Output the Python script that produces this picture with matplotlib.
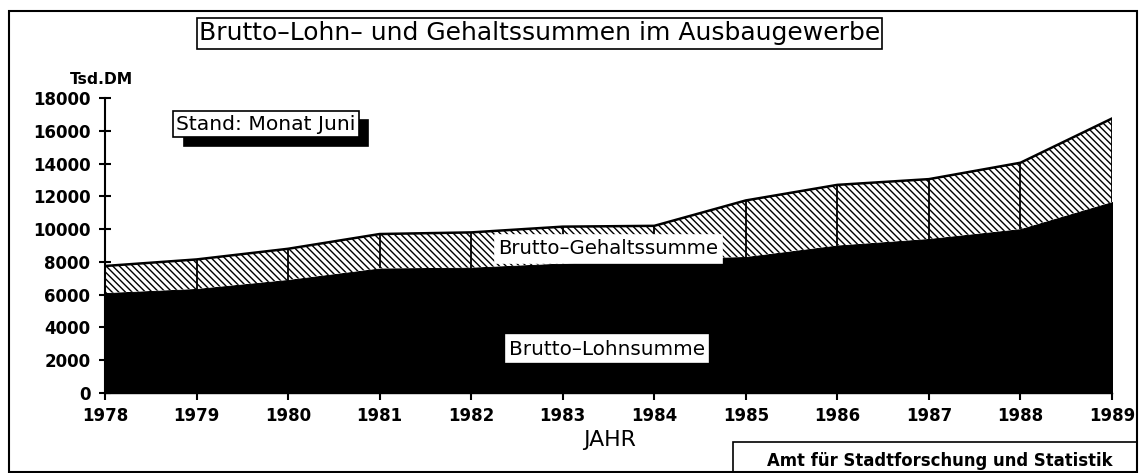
import numpy as np
import matplotlib.pyplot as plt
from matplotlib.patches import Rectangle

# ==============================================================================
# Data (Tsd. DM, Stand: Monat Juni)
# ==============================================================================
years = [1978, 1979, 1980, 1981, 1982, 1983, 1984, 1985, 1986, 1987, 1988, 1989]
lohn = [6100, 6350, 6900, 7600, 7650, 7900, 8150, 8300, 9000, 9400, 10000, 11650]
gehalt = [1650, 1800, 1900, 2100, 2150, 2250, 2050, 3450, 3700, 3650, 4050, 5100]
yticks = [0, 2000, 4000, 6000, 8000, 10000, 12000, 14000, 16000, 18000]

title = "Brutto–Lohn– und Gehaltssummen im Ausbaugewerbe"
label_gehalt = "Brutto–Gehaltssumme"
label_lohn = "Brutto–Lohnsumme"
note = "Stand: Monat Juni"
source = "Amt für Stadtforschung und Statistik"

# ==============================================================================
# Figure
# ==============================================================================
W, H = 1140, 473
plt.rcParams['font.family'] = ['DejaVu Sans']
plt.rcParams['hatch.linewidth'] = 1.0
fig = plt.figure(figsize=(W / 100, H / 100), dpi=100)
fig.patch.set_facecolor('white')


def fx(x):
    return x / W


def fy(y):
    return 1 - y / H


def box(x0, y0, x1, y1, fc='none', ec='black', lw=1.2, z=1):
    fig.patches.append(Rectangle((fx(x0), fy(y1)), fx(x1) - fx(x0), fy(y0) - fy(y1),
                                 transform=fig.transFigure, facecolor=fc,
                                 edgecolor=ec, linewidth=lw, zorder=z))


renderer = fig.canvas.get_renderer()


def put(x, y, s, width, weight='normal', z=5):
    t = fig.text(fx(x), fy(y), s, ha='center', va='center', fontsize=12,
                 fontweight=weight, zorder=z)
    w = t.get_window_extent(renderer).width
    t.set_fontsize(12 * width / w)
    return t


# outer frame
box(9, 11, 1137, 472, lw=1.5)

ax = fig.add_axes([fx(105), fy(393), fx(1112) - fx(105), fy(98) - fy(393)])
lohn_a = np.array(lohn)
total = lohn_a + np.array(gehalt)

ax.fill_between(years, 0, lohn_a, facecolor='black', edgecolor='black', linewidth=0.8)
ax.fill_between(years, lohn_a, total, facecolor='white', edgecolor='black',
                hatch='\\\\\\\\\\', linewidth=0)
ax.plot(years, total, color='black', linewidth=1.8)
ax.vlines(years, lohn_a, total, color='black', linewidth=1.3)

ax.set_xlim(1978, 1989)
ax.set_ylim(0, 18000)
ax.set_xticks(years)
ax.set_yticks(yticks)
for side in ['top', 'right']:
    ax.spines[side].set_visible(False)
ax.spines['left'].set_linewidth(1.5)
ax.spines['bottom'].set_linewidth(1.0)
ax.spines['left'].set_zorder(5)
ax.tick_params(axis='y', direction='inout', length=9, width=1.5, pad=6,
               labelsize=12)
ax.tick_params(axis='x', direction='out', length=5, width=1.5, pad=5,
               labelsize=12)
for lab in ax.get_xticklabels() + ax.get_yticklabels():
    lab.set_fontweight('bold')

# title box
box(197, 18, 882, 49)
put(540, 33, title, 680)

# note with shadow
box(184, 120, 368, 146, fc='black', z=2)
box(173, 111, 359, 137, fc='white', z=3)
put(266, 124, note, 178)

# series labels in white boxes
box(495, 235, 722, 263, fc='white', ec='white', z=4)
put(608, 249, label_gehalt, 220)
box(506, 335, 708, 362, fc='white', ec='white', z=4)
put(607, 349, label_lohn, 195)

put(101, 80, "Tsd.DM", 63, weight='bold')
put(610, 440, "JAHR", 53)

box(733, 442, 1137, 474)
put(940, 461, source, 345, weight='bold')

fig.savefig("out.png", dpi=100)
